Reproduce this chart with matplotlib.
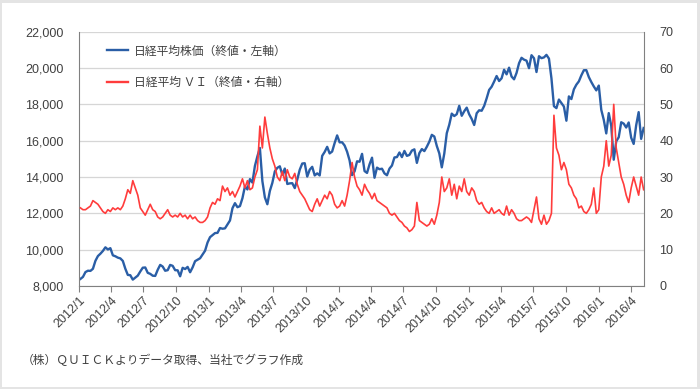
import matplotlib
matplotlib.use("Agg")
import matplotlib.pyplot as plt
import pandas as pd
from matplotlib.patches import Rectangle
from matplotlib.ticker import FuncFormatter, MultipleLocator
import matplotlib.dates as mdates

plt.rcParams["font.family"] = ["Noto Sans CJK JP", "DejaVu Sans"]

# weekly (Friday) readings, 2012/1 .. 2016/5
FIRST_WEEK = "2012-01-06"

NIKKEI_2012 = [8390, 8500, 8766, 8841, 8831, 8947, 9384, 9647, 9777, 9929, 10129, 10011, 10083,
               9688, 9637, 9561, 9520, 9380, 8953, 8611, 8593, 8350, 8460, 8570, 8798, 9006,
               9020, 8724, 8669, 8566, 8555, 8891, 9162, 9070, 8839, 8871, 9159, 9110, 8870,
               8863, 8534, 9002, 8933, 9051, 8757, 9024, 9366, 9446, 9527, 9737, 9940, 10395]
NIKKEI_2013 = [10688, 10801, 10913, 10926, 11191, 11153, 11173, 11385, 11606, 12283, 12560, 12338, 12397,
               12833, 13485, 13316, 13884, 13694, 14607, 15138, 15600, 13774, 12877, 12500, 13230, 13677,
               14309, 14506, 14589, 14129, 14466, 13615, 13650, 13660, 13389, 13860, 14404, 14742, 14760,
               14024, 14404, 14561, 14088, 14201, 14086, 15165, 15381, 15661, 15299, 15403, 15870, 16291]
NIKKEI_2014 = [15908, 15912, 15734, 15391, 14914, 14100, 14313, 14865, 14841, 15274, 14327, 14224, 14696,
               15063, 13960, 14516, 14429, 14457, 14199, 14097, 14462, 14632, 15077, 15097, 15349, 15095,
               15437, 15164, 15215, 15457, 15523, 14778, 15318, 15539, 15425, 15668, 15948, 16321, 16229,
               15708, 15300, 14532, 15291, 16413, 16880, 17490, 17357, 17459, 17920, 17371, 17621, 17818]
NIKKEI_2015 = [17450, 17197, 16864, 17511, 17674, 17648, 17913, 18332, 18797, 18971, 19254, 19560, 19285,
               19435, 19907, 19653, 20020, 19531, 19379, 19732, 20264, 20563, 20461, 20407, 19990, 20706,
               20539, 19780, 20650, 20544, 20585, 20724, 20519, 19436, 17900, 17792, 18264, 18070, 17880,
               17100, 18438, 18291, 18825, 19083, 19265, 19596, 19879, 19883, 19504, 19230, 18986, 18769]
NIKKEI_2016 = [19034, 17698, 17147, 16400, 17518, 16820, 14952, 15967, 16188, 17015, 16939, 16725, 17003,
               16164, 15821, 16848, 17572, 16100, 16700]

VI_2012 = [21.5, 21, 21, 21.5, 22, 23.5, 23, 22.5, 21.5, 20.5, 20, 21, 20.5,
           21.5, 21, 21.5, 21, 22, 24, 26.5, 25.5, 29, 27, 25, 21.5, 20.5,
           19.5, 21, 22.5, 21, 20.5, 19, 18.5, 19, 20, 21, 19.5, 19, 19.5,
           19, 20, 19, 19.5, 18.5, 19.5, 18.5, 19, 18, 17.5, 17.5, 18, 19]
VI_2013 = [21.5, 23, 22.5, 24, 23.5, 27.5, 26, 27, 25, 26, 24.5, 26, 27.5,
           29.5, 27, 29, 26.5, 27, 30, 32, 44, 38, 46.5, 42, 38, 35,
           33, 30, 29, 31.5, 29, 32, 30, 29.5, 31, 28, 26, 25, 24,
           22.5, 21, 20.5, 22.5, 24, 22, 23.5, 25, 24, 26, 25, 22.5, 21.5]
VI_2014 = [22, 23.5, 22, 25, 29, 34, 30, 27.5, 26.5, 25, 28, 26.5, 25.5,
           24, 25.5, 23.5, 23, 22.5, 22, 21.5, 20, 19.5, 20, 19, 18, 17.5,
           16.5, 16, 15, 15.5, 16.5, 23, 18, 17.5, 17, 16.5, 17, 18.5, 17,
           19.5, 23, 30, 26, 27, 29.5, 25, 28, 24, 27.5, 26, 29.5, 26]
VI_2015 = [25, 27, 26, 23.5, 22.5, 23, 21.5, 20.5, 20, 21.5, 20, 20.5, 21,
           20, 19.5, 22, 19.5, 21, 20, 18.5, 18, 18, 18.5, 19, 18.5, 17.5,
           21, 24.5, 18.5, 17, 19.5, 17, 18, 20, 47, 38, 36, 32, 34,
           32, 28, 27, 25, 24, 21.5, 22, 20.5, 20, 21, 22.5, 27, 20]
VI_2016 = [21, 30, 33, 40, 33, 36, 50, 38, 34, 30, 28, 25, 23,
           27, 30, 27.5, 25, 30, 26.5]

LEFT_TICKS = [8000, 22000, 2000]
RIGHT_TICKS = [0, 70, 10]
LABEL_NIKKEI = "日経平均株価（終値・左軸）"
LABEL_VI = "日経平均 ＶＩ（終値・右軸）"
SOURCE_NOTE = "（株）ＱＵＩＣＫよりデータ取得、当社でグラフ作成"

BLUE = "#2a5ea6"
RED = "#ff3c3c"
GRID = "#d6d6d6"
AXIS = "#808080"
TEXT = "#404040"

nikkei = NIKKEI_2012 + NIKKEI_2013 + NIKKEI_2014 + NIKKEI_2015 + NIKKEI_2016
vi = VI_2012 + VI_2013 + VI_2014 + VI_2015 + VI_2016
assert len(nikkei) == len(vi)
dates = pd.date_range(FIRST_WEEK, periods=len(nikkei), freq="W-FRI")

fig = plt.figure(figsize=(7, 3.89), dpi=100)
fig.patch.set_facecolor("#e4e4e4")
fig.patches.append(Rectangle((2 / 700, 2 / 389), 695 / 700, 384 / 389, transform=fig.transFigure,
                             facecolor="white", edgecolor="none", zorder=-5))

ax = fig.add_axes([0.1124, 0.2648, 0.8076, 0.6537])
ax2 = ax.twinx()

ax.plot(dates, nikkei, color=BLUE, lw=1.7, solid_joinstyle="round")
ax2.plot(dates, vi, color=RED, lw=1.2, solid_joinstyle="round")

ax.set_xlim(pd.Timestamp("2012-01-01"), pd.Timestamp("2016-05-07"))
ax.set_ylim(LEFT_TICKS[0], LEFT_TICKS[1])
ax.yaxis.set_major_locator(MultipleLocator(LEFT_TICKS[2]))
ax.yaxis.set_major_formatter(FuncFormatter(lambda v, _: f"{v:,.0f}"))
ax2.set_ylim(RIGHT_TICKS[0], RIGHT_TICKS[1])
ax2.yaxis.set_major_locator(MultipleLocator(RIGHT_TICKS[2]))

ax.xaxis.set_major_locator(mdates.MonthLocator(bymonth=[1, 4, 7, 10]))
ax.xaxis.set_major_formatter(FuncFormatter(lambda v, _: f"{mdates.num2date(v).year}/{mdates.num2date(v).month}"))

ax.grid(axis="y", color=GRID, lw=0.9)
ax.set_axisbelow(True)
for a in (ax, ax2):
    a.spines["top"].set_visible(False)
    a.patch.set_visible(False)
ax.spines["right"].set_visible(False)
ax2.spines["left"].set_visible(False)
ax2.spines["bottom"].set_visible(False)
ax.spines["left"].set_color(AXIS)
ax.spines["bottom"].set_color(AXIS)
ax2.spines["right"].set_color(AXIS)

ax.tick_params(axis="y", length=0, pad=11, labelsize=9, labelcolor=TEXT)
ax2.tick_params(axis="y", length=0, pad=11, labelsize=9, labelcolor=TEXT)
ax.tick_params(axis="x", length=4, color=AXIS, pad=2, labelsize=9, labelcolor=TEXT)
for lab in ax.get_xticklabels() + ax.get_yticklabels() + ax2.get_yticklabels():
    lab.set_fontfamily(["Liberation Sans", "DejaVu Sans"])
plt.setp(ax.get_xticklabels(), rotation=45, ha="right", rotation_mode="anchor")

handles = [plt.Line2D([], [], color=BLUE, lw=1.7), plt.Line2D([], [], color=RED, lw=1.7)]
ax2.legend(handles, [LABEL_NIKKEI, LABEL_VI], loc="upper left", bbox_to_anchor=(0.05, 0.95),
           frameon=False, fontsize=8.5, handlelength=1.8, handletextpad=0.5,
           labelspacing=1.6, borderpad=0, borderaxespad=0, labelcolor=TEXT)

fig.text(22 / 700, 1 - 360 / 389, SOURCE_NOTE, fontsize=8.5, color=TEXT, va="center", ha="left")

fig.savefig("out.png", dpi=100, facecolor=fig.get_facecolor())
